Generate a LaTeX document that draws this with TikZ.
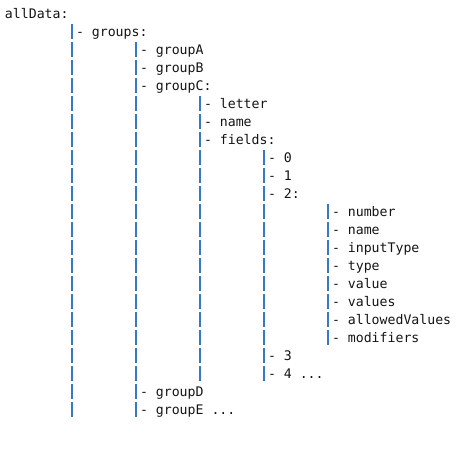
\documentclass[tikz,border=0pt]{standalone}
\usepackage{fontspec}
\setmonofont{DejaVu Sans Mono}
\definecolor{railblue}{RGB}{52,122,200}
\definecolor{ink}{RGB}{20,20,20}
\newcommand\ellip{...}
\tikzset{
  item/.style={anchor=base west, inner sep=0pt, outer sep=0pt, text=ink,
    font=\ttfamily\fontsize{13.2}{16}\selectfont},
  rail/.style={draw=railblue, line width=1.5pt},
}
\begin{document}
\begin{tikzpicture}[x=1pt,y=1pt]
  \useasboundingbox (0,0) rectangle (475,-454);
  % root line
  \node[item] (root) at (5,-19) {allData:};
  % tree rows: row / depth / label
  \foreach \r/\d/\t in {
      1/0/groups:, 2/1/groupA, 3/1/groupB, 4/1/groupC:,
      5/2/letter, 6/2/name, 7/2/fields:,
      8/3/0, 9/3/1, 10/3/2:,
      11/4/number, 12/4/name, 13/4/inputType, 14/4/type, 15/4/value,
      16/4/values, 17/4/allowedValues, 18/4/modifiers,
      19/3/3, 20/3/4 \ellip, 21/1/groupD, 22/1/groupE \ellip}{
    \node[item] (r\r) at ({76+64*\d},{-(19+18*\r)}) {- \t};
    % vertical guide bars for every open level on this row
    \foreach \c in {0,...,\d}
      \draw[rail] ({72+64*\c},{-(19+18*\r)+13}) -- ++(0,-15);
  }
\end{tikzpicture}
\end{document}
